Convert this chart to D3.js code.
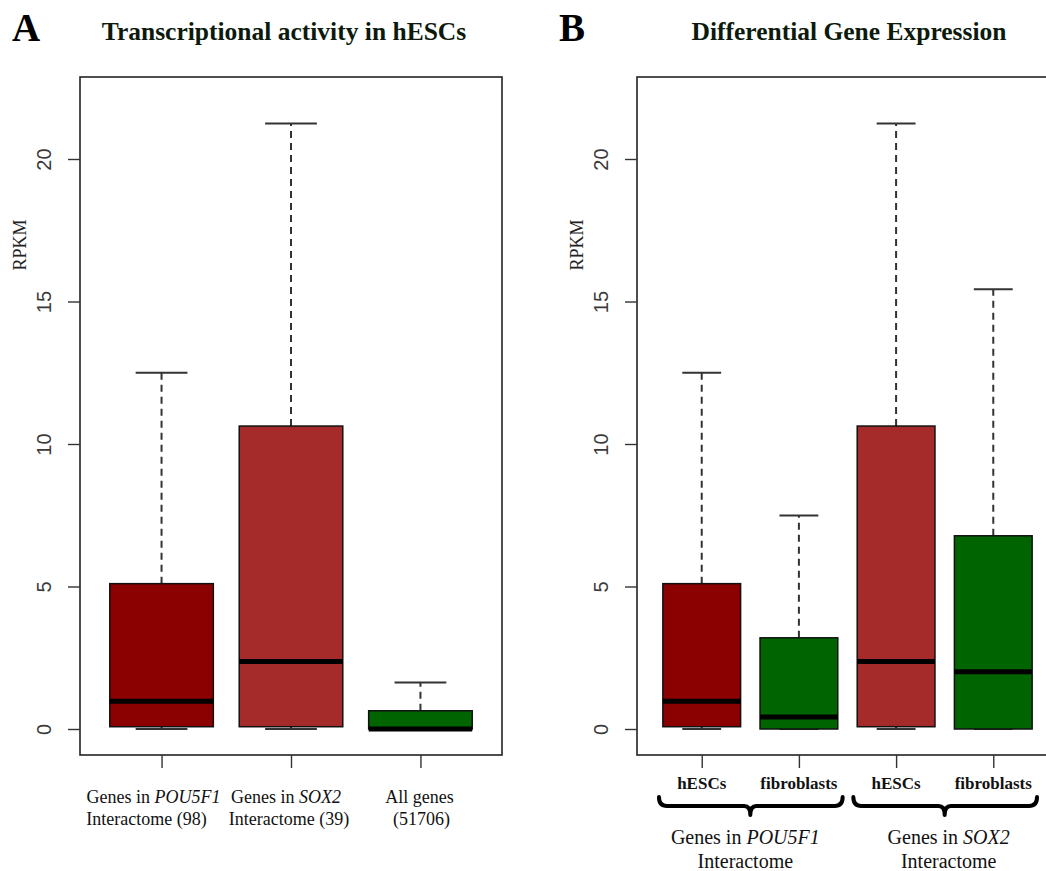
<!DOCTYPE html>
<html><head><meta charset="utf-8">
<script src="https://cdn.jsdelivr.net/npm/d3@7"></script>
<style>body{margin:0;background:#fff}svg{display:block}</style>
</head><body><svg id="c" width="1046" height="871"></svg>
<script>
// ---------- data ----------
const yTicks = [0, 5, 10, 15, 20];

const catsA = ["POU5F1 interactome (98)", "SOX2 interactome (39)", "All genes (51706)"];
const lowA  = [0, 0, 0];
const q1A   = [0.08, 0.08, 0];
const medA  = [0.97, 2.37, 0.0];
const q3A   = [5.1, 10.63, 0.64];
const highA = [12.5, 21.25, 1.63];
const colA  = ["#8B0000", "#A52A2A", "#006400"];

const catsB = ["POU5F1 hESCs", "POU5F1 fibroblasts", "SOX2 hESCs", "SOX2 fibroblasts"];
const subLabelsB = ["hESCs", "fibroblasts", "hESCs", "fibroblasts"];
const lowB  = [0, 0, 0, 0];
const q1B   = [0.08, 0, 0.08, 0];
const medB  = [0.97, 0.42, 2.37, 2.01];
const q3B   = [5.1, 3.2, 10.63, 6.78];
const highB = [12.5, 7.49, 21.25, 15.43];
const colB  = ["#8B0000", "#006400", "#A52A2A", "#006400"];

const groupGenes = ["POU5F1", "SOX2"];

// ---------- drawing ----------
const svg = d3.select("#c");
const serif = "'Liberation Serif','Times New Roman',serif";
const sans = "'Liberation Sans',Arial,sans-serif";

const y = d3.scaleLinear().domain([0, 20]).range([729, 159]);
const plotTop = 77, plotBottom = 755;

function panel(opt) {
  const g = svg.append("g");
  const x = d3.scalePoint().domain(opt.cats).range([opt.left, opt.right]).padding(opt.pad);
  const step = x.step();
  const bw = 0.8 * step;

  g.append("rect").attr("x", opt.left).attr("y", plotTop)
    .attr("width", opt.right - opt.left).attr("height", plotBottom - plotTop)
    .attr("fill", "none").attr("stroke", "#222").attr("stroke-width", 1.6);

  const ya = g.append("g").attr("transform", `translate(${opt.left},0)`)
    .call(d3.axisLeft(y).tickValues(yTicks).tickSize(12).tickFormat(d3.format("d")));
  ya.select(".domain").remove();
  ya.selectAll(".tick line").attr("stroke", "#333").attr("stroke-width", 1.4);
  ya.selectAll(".tick text").attr("x", null).attr("dy", null)
    .attr("transform", "translate(-29,0) rotate(-90)")
    .attr("text-anchor", "middle")
    .attr("fill", "#3a3a3a").style("font-family", sans).style("font-size", "20px");

  const xa = g.append("g").attr("transform", `translate(0,${plotBottom})`)
    .call(d3.axisBottom(x).tickSize(13).tickFormat(""));
  xa.select(".domain").remove();
  xa.selectAll(".tick line").attr("stroke", "#333").attr("stroke-width", 1.4);

  g.append("text").attr("transform", `translate(${opt.left - 54},245) rotate(-90)`)
    .attr("text-anchor", "middle").style("font-family", serif).style("font-size", "18px")
    .attr("fill", "#222").text("RPKM");

  opt.cats.forEach((c, i) => {
    const cx = x(c);
    const bx = g.append("g");
    bx.append("line").attr("x1", cx).attr("x2", cx).attr("y1", y(opt.q3[i])).attr("y2", y(opt.high[i]))
      .attr("stroke", "#333").attr("stroke-width", 2).attr("stroke-dasharray", "7,5");
    bx.append("line").attr("x1", cx).attr("x2", cx).attr("y1", y(opt.q1[i])).attr("y2", y(opt.low[i]))
      .attr("stroke", "#333").attr("stroke-width", 2).attr("stroke-dasharray", "7,5");
    [opt.high[i], opt.low[i]].forEach(v => {
      bx.append("line").attr("x1", cx - bw / 4).attr("x2", cx + bw / 4).attr("y1", y(v)).attr("y2", y(v))
        .attr("stroke", "#333").attr("stroke-width", 2);
    });
    bx.append("rect").attr("x", cx - bw / 2).attr("width", bw)
      .attr("y", y(opt.q3[i])).attr("height", Math.max(1, y(opt.q1[i]) - y(opt.q3[i])))
      .attr("fill", opt.col[i]).attr("stroke", "#111").attr("stroke-width", 1.5);
    bx.append("line").attr("x1", cx - bw / 2).attr("x2", cx + bw / 2)
      .attr("y1", y(opt.med[i])).attr("y2", y(opt.med[i]))
      .attr("stroke", "#000").attr("stroke-width", 5);
  });
  return {g, x, step};
}

// ---------- Panel A ----------
const A = panel({cats: catsA, left: 80, right: 502, pad: 0.63,
  low: lowA, q1: q1A, med: medA, q3: q3A, high: highA, col: colA});

svg.append("text").attr("x", 12).attr("y", 41).style("font-family", serif)
  .style("font-size", "39px").style("font-weight", "bold").attr("fill", "#000").text("A");
svg.append("text").attr("x", 284).attr("y", 40).attr("text-anchor", "middle").style("font-family", serif)
  .style("font-size", "25.5px").style("font-weight", "bold").attr("fill", "#0c1a0c")
  .text("Transcriptional activity in hESCs");

const labA = [
  [[["Genes in ", false], ["POU5F1", true]], [["Interactome (98)", false]]],
  [[["Genes in ", false], ["SOX2", true]], [["Interactome (39)", false]]],
  [[["All genes", false]], [["(51706)", false]]]
];
const labDx = [[-8, -15], [-5, -2], [-1, 1]];
labA.forEach((lines, i) => {
  lines.forEach((parts, j) => {
    const t = svg.append("text").attr("x", A.x(catsA[i]) + labDx[i][j]).attr("y", 803 + j * 22)
      .attr("text-anchor", "middle").style("font-family", serif).style("font-size", "18px").attr("fill", "#111");
    parts.forEach(p => t.append("tspan").style("font-style", p[1] ? "italic" : "normal").text(p[0]));
  });
});

// ---------- Panel B ----------
const B = panel({cats: catsB, left: 637, right: 1058, pad: 0.666,
  low: lowB, q1: q1B, med: medB, q3: q3B, high: highB, col: colB});

svg.append("text").attr("x", 559).attr("y", 41).style("font-family", serif)
  .style("font-size", "39px").style("font-weight", "bold").attr("fill", "#000").text("B");
svg.append("text").attr("x", 849).attr("y", 40).attr("text-anchor", "middle").style("font-family", serif)
  .style("font-size", "25.5px").style("font-weight", "bold").attr("fill", "#0c1a0c")
  .text("Differential Gene Expression");

catsB.forEach((c, i) => {
  svg.append("text").attr("x", B.x(c)).attr("y", 789).attr("text-anchor", "middle")
    .style("font-family", serif).style("font-size", "17px").style("font-weight", "bold")
    .attr("fill", "#111").text(subLabelsB[i]);
});

groupGenes.forEach((gene, k) => {
  const c0 = B.x(catsB[2 * k]), c1 = B.x(catsB[2 * k + 1]);
  const x0 = c0 - 0.44 * B.step, x1 = c1 + 0.45 * B.step, cx = (c0 + c1) / 2;
  const yT = 797, yM = 806, yB = 815;
  const path = `M${x0},${yT} Q${x0},${yM} ${x0 + 8},${yM} L${cx - 6},${yM} Q${cx},${yM} ${cx},${yB}` +
    ` M${cx},${yB} Q${cx},${yM} ${cx + 6},${yM} L${x1 - 8},${yM} Q${x1},${yM} ${x1},${yT}`;
  svg.append("path").attr("d", path).attr("fill", "none").attr("stroke", "#000")
    .attr("stroke-width", 4).attr("stroke-linecap", "round");
  const gx = cx + (k === 0 ? -5 : 4);
  const t1 = svg.append("text").attr("x", gx).attr("y", 844).attr("text-anchor", "middle")
    .style("font-family", serif).style("font-size", "20px").attr("fill", "#111");
  t1.append("tspan").text("Genes in ");
  t1.append("tspan").style("font-style", "italic").text(gene);
  svg.append("text").attr("x", gx).attr("y", 868).attr("text-anchor", "middle")
    .style("font-family", serif).style("font-size", "20px").attr("fill", "#111").text("Interactome");
});
</script></body></html>
